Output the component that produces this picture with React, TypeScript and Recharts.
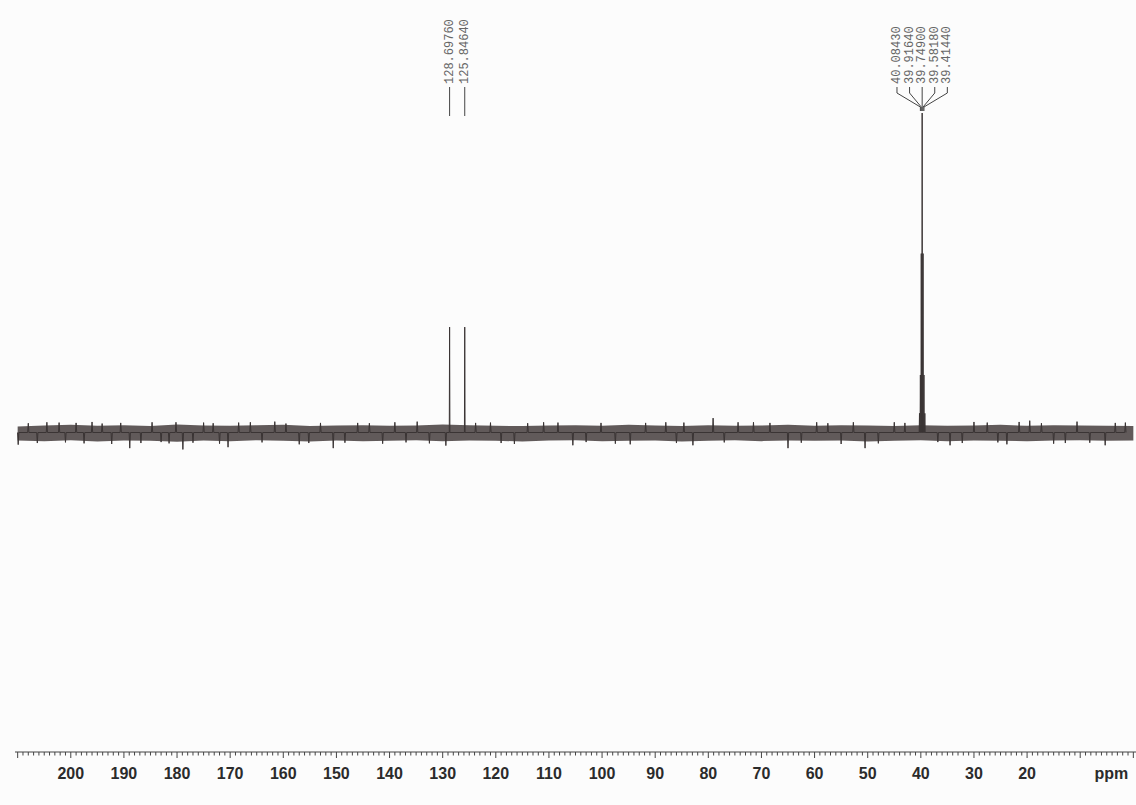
import { ComposedChart, Line, Area, Scatter, XAxis, YAxis } from "recharts";

// 13C spectrum, chemical shift in ppm (x axis runs right to left)
const majorTicks = [210, 200, 190, 180, 170, 160, 150, 140, 130, 120, 110, 100, 90, 80, 70, 60, 50, 40, 30, 20, 10, 0];
const labelledTicks = [200, 190, 180, 170, 160, 150, 140, 130, 120, 110, 100, 90, 80, 70, 60, 50, 40, 30, 20];

// peaks (relative intensity, solvent centre line = 100)
const peakPpm = [128.6976, 125.8464, 40.2515, 40.0843, 39.9164, 39.749, 39.5818, 39.4144, 39.2465];
const peakHeight = [33, 33, 6, 18, 56, 100, 56, 18, 6];

// labelled peaks, grouped the way the annotations are drawn
const labelGroups = [[128.6976], [125.8464], [40.0843, 39.9164, 39.749, 39.5818, 39.4144]];

// baseline noise envelope, read every 5 ppm from 210 down to 0
const noisePpm = [210, 205, 200, 195, 190, 185, 180, 175, 170, 165, 160, 155, 150, 145, 140, 135, 130, 125, 120, 115, 110, 105, 100, 95, 90, 85, 80, 75, 70, 65, 60, 55, 50, 45, 40, 35, 30, 25, 20, 15, 10, 5, 0];
const noiseTop = [1.9, 2.2, 2.4, 2.1, 2.3, 2.0, 2.5, 2.2, 2.1, 2.3, 2.4, 2.0, 2.2, 2.3, 2.1, 2.2, 2.5, 2.3, 2.1, 2.0, 2.2, 2.3, 2.1, 2.4, 2.2, 2.0, 2.3, 2.1, 2.2, 2.4, 2.1, 2.3, 2.2, 2.0, 2.3, 2.1, 2.2, 2.4, 2.1, 2.3, 2.2, 2.1, 2.0];
const noiseBottom = [-2.5, -2.7, -2.4, -2.8, -2.5, -2.6, -2.9, -2.5, -2.7, -2.4, -2.6, -2.8, -2.5, -2.7, -2.6, -2.4, -2.7, -2.5, -2.6, -2.8, -2.5, -2.4, -2.7, -2.6, -2.5, -2.8, -2.6, -2.4, -2.7, -2.5, -2.6, -2.5, -2.8, -2.6, -2.4, -2.7, -2.5, -2.6, -2.7, -2.5, -2.4, -2.6, -2.5];

// larger noise spikes sticking out of the band
const spikePpm = [209.9, 204.5, 199.0, 196.0, 192.3, 188.9, 184.7, 181.5, 178.9, 175.0, 170.4, 166.2, 161.6, 157.0, 150.6, 146.0, 141.3, 134.8, 129.4, 121.0, 116.5, 111.0, 105.5, 100.2, 94.7, 88.0, 82.9, 79.1, 74.4, 68.4, 65.0, 59.6, 55.0, 50.5, 45.0, 34.5, 30.0, 23.8, 19.5, 15.0, 10.6, 5.3, 1.5];
const spikeHeight = [-3.8, 3.2, 3.0, 3.3, -3.6, -4.9, 3.2, -3.4, -5.3, 3.1, -4.6, 3.2, 3.4, -3.7, -4.9, 3.0, -3.5, 3.4, -4.1, 3.1, -3.6, 3.2, -4.0, 3.0, -3.7, 3.2, -4.0, 4.5, 3.2, 3.0, -4.9, 3.2, -3.6, -4.9, 3.2, -4.0, 3.3, -3.7, 3.7, -3.5, 3.4, -4.0, 3.1];

// smaller spikes giving the band its ragged edge
const fuzzPpm = [208.0, 206.3, 202.2, 201.0, 197.5, 194.1, 190.6, 186.8, 183.0, 180.2, 177.0, 173.2, 172.0, 168.4, 164.0, 159.5, 155.2, 153.0, 148.4, 143.8, 139.0, 136.9, 132.5, 123.8, 119.0, 114.0, 108.3, 103.0, 97.5, 91.8, 86.0, 84.6, 77.0, 71.5, 62.5, 57.5, 52.7, 48.0, 43.0, 36.8, 32.2, 27.5, 25.5, 21.5, 17.3, 12.8, 8.2, 3.4];
const fuzzHeight = [2.9, -3.3, 3.1, -3.1, -3.4, 2.8, 3.0, -3.3, -3.0, 3.2, -3.2, 2.9, -3.5, 3.1, -3.1, 2.8, -3.3, 3.0, -3.2, 2.9, 3.2, -3.1, -3.4, 3.0, -3.3, 2.9, 3.1, -3.0, -3.5, 3.0, -3.3, 3.1, -3.1, 3.2, -3.2, 2.9, 3.2, -3.4, 3.0, -3.0, -3.3, 3.1, -3.1, 3.3, 2.9, -3.3, -3.2, 3.0];

const noise = noisePpm.map((p, i) => ({ ppm: p, band: [noiseBottom[i], noiseTop[i]] }));

const sticks = [
  ...peakPpm.map((p, i) => ({ p, h: peakHeight[i], w: 0.06 })),
  ...spikePpm.map((p, i) => ({ p, h: spikeHeight[i], w: 0.12 })),
  ...fuzzPpm.map((p, i) => ({ p, h: fuzzHeight[i], w: 0.12 })),
].sort((a, b) => b.p - a.p);

const spectrum: { ppm: number; v: number }[] = [];
sticks.forEach((s) => {
  spectrum.push({ ppm: s.p + s.w, v: 0 }, { ppm: s.p, v: s.h }, { ppm: s.p - s.w, v: 0 });
});

const labelPoints = labelGroups.flatMap((g) =>
  g.map((p, i) => ({ ppm: p, level: 100, text: p.toFixed(5), slot: i - (g.length - 1) / 2, fanned: g.length > 1 }))
);

const minorTicks = Array.from({ length: 211 }, (_, i) => i);

function PpmTick(props: any) {
  const { x, y, payload } = props;
  const v = payload.value;
  const major = majorTicks.includes(v);
  const font = { fontFamily: "Liberation Sans, Arial, sans-serif", fontSize: 16, fontWeight: 700, fill: "#2b2b2b" };
  return (
    <g>
      <line x1={x} y1={y} x2={x} y2={y + (major ? 6 : 3.5)} stroke="#444" strokeWidth={1} />
      {labelledTicks.includes(v) && (
        <text x={x} y={y + 21} textAnchor="middle" dominantBaseline="central" {...font}>
          {v}
        </text>
      )}
      {v === 0 && (
        <text x={x - 5} y={y + 21} textAnchor="end" dominantBaseline="central" {...font}>
          ppm
        </text>
      )}
    </g>
  );
}

function PeakLabel(props: any) {
  const { cx, cy, payload } = props;
  const tx = cx + payload.slot * 11.7;
  const textBottom = cy - 29;
  const top = cy - 26;
  const end = payload.fanned ? cy - 2 : cy + 3;
  return (
    <g>
      <text
        x={tx}
        y={textBottom}
        transform={`rotate(-90 ${tx} ${textBottom})`}
        dominantBaseline="central"
        fontFamily="Liberation Mono, monospace"
        fontSize={12}
        fill="#666"
      >
        {payload.text}
      </text>
      <path
        d={`M${tx},${top} L${tx},${top + 6} L${cx},${top + 20} L${cx},${end}`}
        fill="none"
        stroke="#444"
        strokeWidth={1}
      />
    </g>
  );
}

export default function App() {
  return (
    <div style={{ position: "absolute", left: 0, top: 0, width: 1136, height: 805, background: "#fcfcfc" }}>
      <ComposedChart width={1136} height={805} margin={{ top: 113, right: 0, bottom: 23, left: 15 }}>
        <XAxis
          dataKey="ppm"
          type="number"
          domain={[-0.5, 210.5]}
          reversed
          ticks={minorTicks}
          interval={0}
          tickLine={false}
          tickSize={0}
          tickMargin={0}
          height={30}
          axisLine={{ stroke: "#444" }}
          tick={<PpmTick />}
        />
        <YAxis hide type="number" domain={[-100, 100]} />
        <Area
          data={noise}
          dataKey="band"
          type="linear"
          stroke="none"
          fill="#453d3d"
          fillOpacity={0.85}
          isAnimationActive={false}
        />
        <Line
          data={spectrum}
          dataKey="v"
          type="linear"
          dot={false}
          stroke="#3a3434"
          strokeWidth={1}
          isAnimationActive={false}
        />
        <Scatter data={labelPoints} dataKey="level" shape={<PeakLabel />} isAnimationActive={false} />
      </ComposedChart>
    </div>
  );
}
